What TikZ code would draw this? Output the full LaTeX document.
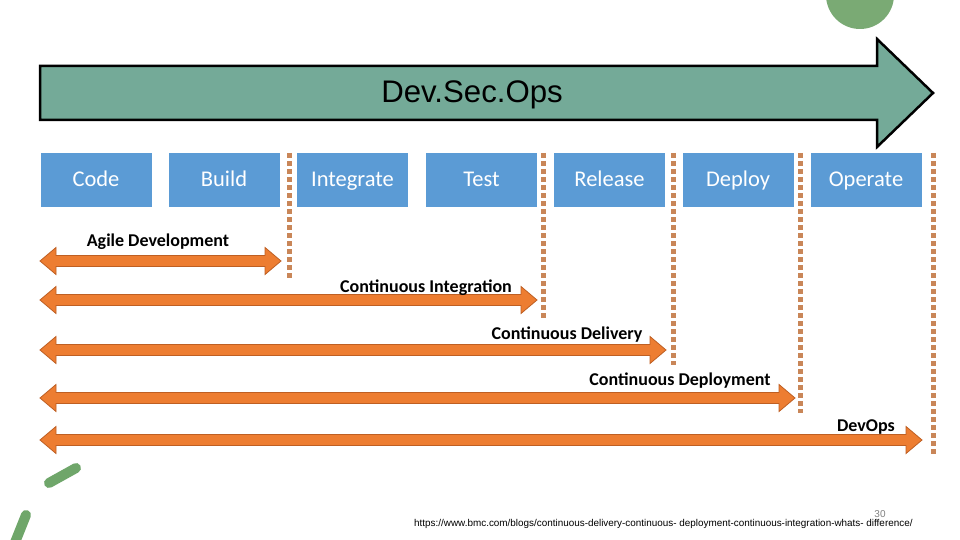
\documentclass[tikz,border=0pt]{standalone}
\usepackage{fontspec}
\setmainfont{Liberation Sans}
\newfontfamily\carlito{Carlito}
\usetikzlibrary{calc}
\definecolor{teal1}{RGB}{116,170,152}
\definecolor{leaf}{RGB}{122,170,116}
\definecolor{strokegreen}{RGB}{111,166,106}
\definecolor{boxblue}{RGB}{91,155,213}
\definecolor{orangef}{RGB}{237,125,49}
\definecolor{oranged}{RGB}{190,95,35}
\definecolor{dotc}{RGB}{201,134,88}
\tikzset{
  stagebox/.style={fill=boxblue, minimum width=111pt, minimum height=54pt, inner sep=0pt,
    text=white, text height=14pt, text depth=2pt, font=\carlito\fontsize{22.5}{26}\selectfont},
  dotline/.style={dotc, line width=5pt, dash pattern=on 5pt off 3pt},
  darrowstyle/.style={fill=orangef, draw=oranged, line width=0.8pt, line join=miter},
  arrlabel/.style={font=\carlito\bfseries\fontsize{18}{21}\selectfont, text=black, inner sep=0pt,
    text height=9pt, text depth=2.5pt},
  greenstroke/.style={draw=strokegreen, line width=10pt, line cap=round}
}
\newcommand{\darr}[2]{%
  \path[darrowstyle] (#1) -- ++(16,-13.5) -- ++(0,8) -- ($(#2)+(-16,-5.5)$) -- ++(0,-8) -- (#2)
   -- ++(-16,13.5) -- ++(0,-8) -- ($(#1)+(16,5.5)$) -- ++(0,8) -- cycle;}
\begin{document}
\begin{tikzpicture}[x=1pt,y=-1pt]
\useasboundingbox (0,0) rectangle (960,540);
\fill[white] (0,0) rectangle (960,540);
% decorations
\fill[leaf] (860,-5) circle (34pt);
\draw[greenstroke] (49,483) -- (76,468);
\draw[greenstroke] (26,515) -- (14,545);
% big arrow
\path[fill=teal1, draw=black, line width=2.5pt, line join=miter]
  (40,66) -- (877,66) -- (877,39) -- (933,93) -- (877,147) -- (877,120) -- (40,120) -- cycle;
\node[font=\fontsize{31.2}{35}\selectfont, inner sep=0pt] (title) at (472,95) {Dev.Sec.Ops};
% stages
\node[stagebox] (code) at (96,180) {Code};
\node[stagebox] (build) at (224,180) {Build};
\node[stagebox] (integrate) at (352.5,180) {Integrate};
\node[stagebox] (test) at (481.5,180) {Test};
\node[stagebox] (release) at (609.5,180) {Release};
\node[stagebox] (deploy) at (738,180) {Deploy};
\node[stagebox] (operate) at (866,180) {Operate};
% dotted separators
\coordinate (d1t) at (289,153); \coordinate (d1b) at (289,278);
\coordinate (d2t) at (543,153); \coordinate (d2b) at (543,318);
\coordinate (d3t) at (673,153); \coordinate (d3b) at (673,365);
\coordinate (d4t) at (800,153); \coordinate (d4b) at (800,413);
\coordinate (d5t) at (933,153); \coordinate (d5b) at (933,455);
\draw[dotline] (d1t) -- (d1b);
\draw[dotline] (d2t) -- (d2b);
\draw[dotline] (d3t) -- (d3b);
\draw[dotline] (d4t) -- (d4b);
\draw[dotline] (d5t) -- (d5b);
% double arrows
\coordinate (a1l) at (40,261); \coordinate (a1r) at (281,261);
\coordinate (a2l) at (40,300); \coordinate (a2r) at (537,300);
\coordinate (a3l) at (40,350); \coordinate (a3r) at (666,350);
\coordinate (a4l) at (40,398); \coordinate (a4r) at (795,398);
\coordinate (a5l) at (40,440); \coordinate (a5r) at (922,440);
\darr{a1l}{a1r}
\darr{a2l}{a2r}
\darr{a3l}{a3r}
\darr{a4l}{a4r}
\darr{a5l}{a5r}
\node[arrlabel] (l1) at (158,243) {Agile Development};
\node[arrlabel] (l2) at (426,289) {Continuous Integration};
\node[arrlabel] (l3) at (567,336) {Continuous Delivery};
\node[arrlabel] (l4) at (680,382) {Continuous Deployment};
\node[arrlabel] (l5) at (866,428) {DevOps};
% footer
\node[anchor=west, inner sep=0pt, font=\fontsize{9.9}{11}\selectfont] (url) at (414,524)
  {https://www.bmc.com/blogs/continuous-delivery-continuous- deployment-continuous-integration-whats- difference/};
\node[inner sep=0pt, text=gray, font=\fontsize{10}{11}\selectfont] (pg) at (880,514) {30};
\end{tikzpicture}
\end{document}
